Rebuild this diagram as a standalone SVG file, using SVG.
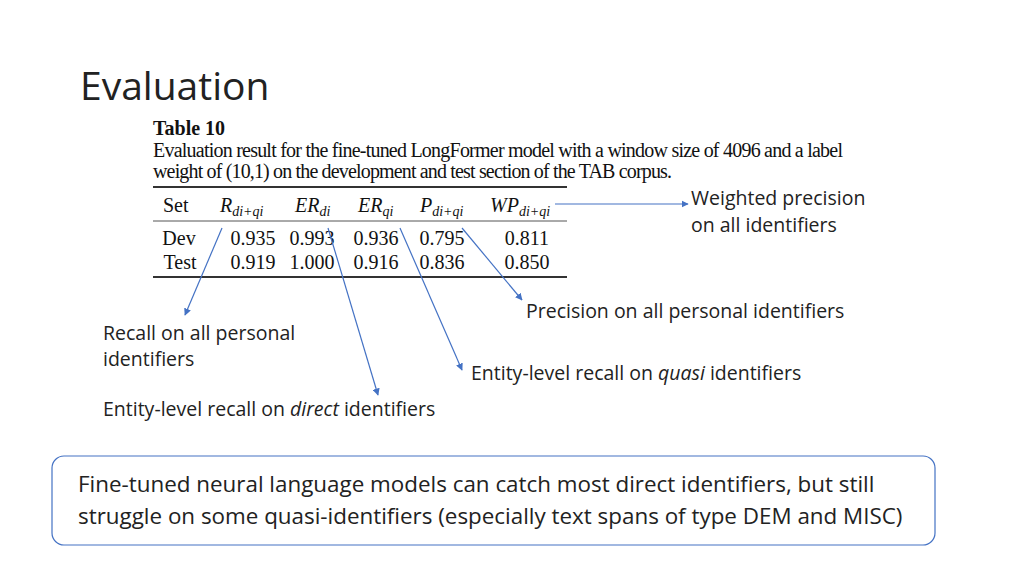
<svg xmlns="http://www.w3.org/2000/svg" width="1024" height="576" viewBox="0 0 1024 576">
<defs><marker id="a" viewBox="0 0 10 10" refX="9" refY="5" markerWidth="6" markerHeight="6" orient="auto"><path d="M0,0L10,5L0,10z" fill="#4472c4"/></marker></defs>
<style>
.s{font-family:"Open Sans","Liberation Sans",sans-serif;fill:#222}
.t{font-family:"Liberation Serif",serif;fill:#111;font-size:20px}
.c{stroke:#4472c4;stroke-width:1.2;fill:none;marker-end:url(#a)}
</style>
<rect width="1024" height="576" fill="#fff"/>
<text class="s" x="80" y="100" font-size="39" fill="#333">Evaluation</text>
<g id="table">
<text class="t" x="153" y="135" font-size="16" font-weight="bold">Table 10</text>
<text class="t" x="153" y="157" font-size="17" textLength="690">Evaluation result for the fine-tuned LongFormer model with a window size of 4096 and a label</text>
<text class="t" x="153" y="178" font-size="17" textLength="519">weight of (10,1) on the development and test section of the TAB corpus.</text>
<line x1="153" y1="187" x2="567" y2="187" stroke="#333" stroke-width="2"/>
<line x1="153" y1="221" x2="567" y2="221" stroke="#555" stroke-width="1"/>
<line x1="153" y1="277" x2="567" y2="277" stroke="#333" stroke-width="2"/>
<text class="t" x="163" y="212">Set</text>
<text class="t" x="220" y="212" font-style="italic">R<tspan font-size="14" dy="4">di+qi</tspan></text>
<text class="t" x="295" y="212" font-style="italic">ER<tspan font-size="14" dy="4">di</tspan></text>
<text class="t" x="358" y="212" font-style="italic">ER<tspan font-size="14" dy="4">qi</tspan></text>
<text class="t" x="420" y="212" font-style="italic">P<tspan font-size="14" dy="4">di+qi</tspan></text>
<text class="t" x="490" y="212" font-style="italic">WP<tspan font-size="14" dy="4">di+qi</tspan></text>
<g text-anchor="middle">
<text class="t" x="179" y="245">Dev</text><text class="t" x="253" y="245">0.935</text><text class="t" x="312" y="245">0.993</text><text class="t" x="376" y="245">0.936</text><text class="t" x="442" y="245">0.795</text><text class="t" x="527" y="245">0.811</text>
<text class="t" x="180" y="269">Test</text><text class="t" x="253" y="269">0.919</text><text class="t" x="312" y="269">1.000</text><text class="t" x="376" y="269">0.916</text><text class="t" x="442" y="269">0.836</text><text class="t" x="527" y="269">0.850</text>
</g>
</g>
<g id="connectors">
<line class="c" x1="222" y1="228" x2="185" y2="315"/>
<line class="c" x1="328" y1="228" x2="378" y2="395"/>
<line class="c" x1="400" y1="228" x2="462" y2="370"/>
<line class="c" x1="462" y1="228" x2="522" y2="300"/>
<line class="c" x1="555" y1="204" x2="688" y2="204"/>
</g>
<g id="labels">
<text class="s" x="691" y="205" font-size="19.5">Weighted precision</text>
<text class="s" x="691" y="232" font-size="19.5">on all identifiers</text>
<text class="s" x="526" y="318" font-size="19.5">Precision on all personal identifiers</text>
<text class="s" x="103" y="340" font-size="19.5">Recall on all personal</text>
<text class="s" x="103" y="366" font-size="19.5">identifiers</text>
<text class="s" x="471" y="380" font-size="19.5">Entity-level recall on <tspan font-style="italic">quasi</tspan> identifiers</text>
<text class="s" x="103" y="416" font-size="19.5">Entity-level recall on <tspan font-style="italic">direct</tspan> identifiers</text>
</g>
<g id="box">
<rect x="52" y="456" width="883" height="89" rx="12" fill="#fff" stroke="#4472c4" stroke-width="1.2"/>
<text class="s" x="78" y="492" font-size="22.4">Fine-tuned neural language models can catch most direct identifiers, but still</text>
<text class="s" x="78" y="524" font-size="22.4">struggle on some quasi-identifiers (especially text spans of type DEM and MISC)</text>
</g>
</svg>
